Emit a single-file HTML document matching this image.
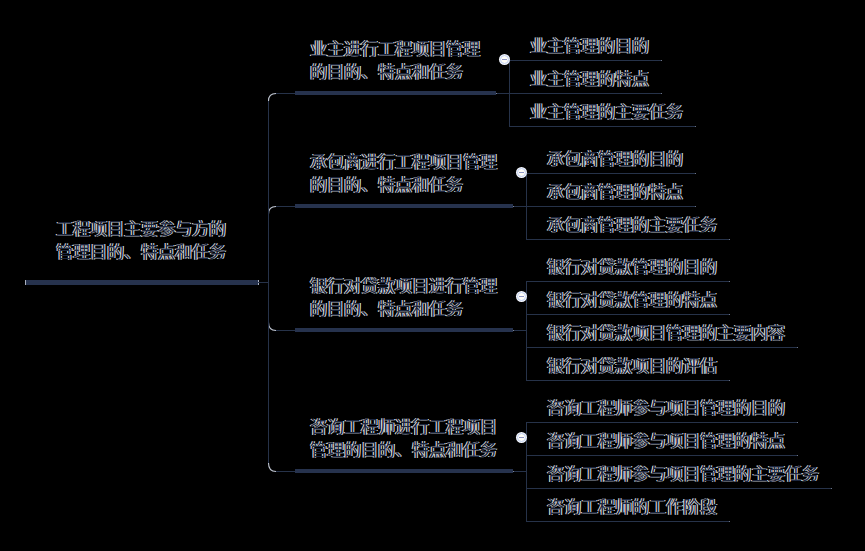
<!DOCTYPE html>
<html lang="zh-CN">
<head>
<meta charset="utf-8">
<title>工程项目主要参与方的管理目的、特点和任务</title>
<style>
html,body{margin:0;padding:0;}
body{width:865px;height:551px;background:#000;position:relative;overflow:hidden;
  font-family:"Liberation Sans",sans-serif;}
.t{position:absolute;font-size:17px;line-height:23px;height:23px;color:#1c263e;white-space:nowrap;
  text-align:justify;text-align-last:justify;
  -webkit-text-stroke:0.2px #1c263e;text-shadow:-1px 0 0 rgb(255,250,238),1px 0 0 rgb(228,242,255);}
.h{position:absolute;height:1px;background:#263249;}
.e::after{content:"";position:absolute;right:0;top:0;width:1px;height:1px;background:#6b7385;}
.v{position:absolute;width:1px;background:#263249;}
.bar{position:absolute;height:4px;background:#26324d;}
.c{position:absolute;width:7px;height:7px;border-radius:50%;background:#fefdf7;border:1px solid #c0d1f4;box-shadow:0 0 0 1px #f3f5fb;}
.c::after{content:"";position:absolute;left:1px;top:3px;width:5px;height:1px;background:#8f96c6;}
.p{position:absolute;width:1px;background:#a9b0bf;}
.q{position:absolute;width:1px;height:1px;background:#7d8596;}
svg{position:absolute;left:0;top:0;}
</style>
</head>
<body>
<svg width="865" height="551">
  <g fill="none" stroke="#c2c8d4" stroke-width="1.1">
    <path d="M268.5 101 Q268.5 93.5 276 93.5"/>
    <path d="M268.5 214 Q268.5 206.5 276 206.5"/>
    <path d="M268.5 322.5 Q268.5 330.5 276 330.5"/>
    <path d="M268.5 463 Q268.5 471.5 276 471.5"/>
  </g>
</svg>
<!-- root -->
<div class="t" style="left:56px;top:218px;width:170px;">工程项目主要参与方的</div>
<div class="t" style="left:56px;top:241px;width:170px;">管理目的、特点和任务</div>
<div class="bar" style="left:25px;top:280px;width:233px;height:5px;"></div>
<div class="h" style="left:258px;top:282px;width:10px;"></div>
<div class="p" style="left:25px;top:280px;height:5px;"></div>
<div class="p" style="left:258px;top:280px;height:2px;"></div>
<div class="p" style="left:258px;top:283px;height:2px;"></div>
<div class="v" style="left:268px;top:101px;height:362px;"></div>
<!-- level 1 node 1 -->
<div class="t" style="left:310px;top:38px;width:170px;">业主进行工程项目管理</div>
<div class="t" style="left:310px;top:61px;width:153px;">的目的、特点和任务</div>
<div class="h" style="left:276px;top:93px;width:19px;"></div>
<div class="bar" style="left:295px;top:91px;width:201px;"></div>
<div class="h" style="left:496px;top:93px;width:13px;"></div>
<div class="q" style="left:496px;top:93px;"></div>
<!-- group 1 -->
<div class="v" style="left:509px;top:60px;height:67px;"></div>
<div class="h e" style="left:509px;top:60px;width:153px;"></div>
<div class="t" style="left:530px;top:35px;width:119px;">业主管理的目的</div>
<div class="h e" style="left:509px;top:93px;width:153px;"></div>
<div class="t" style="left:530px;top:68px;width:119px;">业主管理的特点</div>
<div class="h e" style="left:509px;top:126px;width:187px;"></div>
<div class="t" style="left:530px;top:101px;width:153px;">业主管理的主要任务</div>
<div class="c" style="left:500.0px;top:55.0px;"></div>
<!-- level 1 node 2 -->
<div class="t" style="left:310px;top:151px;width:187px;">承包商进行工程项目管理</div>
<div class="t" style="left:310px;top:174px;width:153px;">的目的、特点和任务</div>
<div class="h" style="left:276px;top:206px;width:19px;"></div>
<div class="bar" style="left:295px;top:204px;width:218px;"></div>
<div class="h" style="left:513px;top:206px;width:13px;"></div>
<div class="q" style="left:513px;top:206px;"></div>
<!-- group 2 -->
<div class="v" style="left:526px;top:173px;height:67px;"></div>
<div class="h e" style="left:526px;top:173px;width:170px;"></div>
<div class="t" style="left:547px;top:148px;width:136px;">承包商管理的目的</div>
<div class="h e" style="left:526px;top:206px;width:170px;"></div>
<div class="t" style="left:547px;top:181px;width:136px;">承包商管理的特点</div>
<div class="h e" style="left:526px;top:239px;width:204px;"></div>
<div class="t" style="left:547px;top:214px;width:170px;">承包商管理的主要任务</div>
<div class="c" style="left:516.5px;top:168.0px;"></div>
<!-- level 1 node 3 -->
<div class="t" style="left:310px;top:275px;width:187px;">银行对贷款项目进行管理</div>
<div class="t" style="left:310px;top:298px;width:153px;">的目的、特点和任务</div>
<div class="h" style="left:276px;top:330px;width:19px;"></div>
<div class="bar" style="left:295px;top:328px;width:218px;"></div>
<div class="h" style="left:513px;top:330px;width:13px;"></div>
<div class="q" style="left:513px;top:330px;"></div>
<!-- group 3 -->
<div class="v" style="left:526px;top:281px;height:100px;"></div>
<div class="h e" style="left:526px;top:281px;width:204px;"></div>
<div class="t" style="left:547px;top:256px;width:170px;">银行对贷款管理的目的</div>
<div class="h e" style="left:526px;top:314px;width:204px;"></div>
<div class="t" style="left:547px;top:289px;width:170px;">银行对贷款管理的特点</div>
<div class="h e" style="left:526px;top:347px;width:272px;"></div>
<div class="t" style="left:547px;top:322px;width:238px;">银行对贷款项目管理的主要内容</div>
<div class="h e" style="left:526px;top:380px;width:204px;"></div>
<div class="t" style="left:547px;top:355px;width:170px;">银行对贷款项目的评估</div>
<div class="c" style="left:516.5px;top:292.0px;"></div>
<!-- level 1 node 4 -->
<div class="t" style="left:310px;top:416px;width:187px;">咨询工程师进行工程项目</div>
<div class="t" style="left:310px;top:439px;width:187px;">管理的目的、特点和任务</div>
<div class="h" style="left:276px;top:471px;width:19px;"></div>
<div class="bar" style="left:295px;top:469px;width:218px;"></div>
<div class="h" style="left:513px;top:471px;width:13px;"></div>
<div class="q" style="left:513px;top:471px;"></div>
<!-- group 4 -->
<div class="v" style="left:526px;top:422px;height:100px;"></div>
<div class="h e" style="left:526px;top:422px;width:272px;"></div>
<div class="t" style="left:547px;top:397px;width:238px;">咨询工程师参与项目管理的目的</div>
<div class="h e" style="left:526px;top:455px;width:272px;"></div>
<div class="t" style="left:547px;top:430px;width:238px;">咨询工程师参与项目管理的特点</div>
<div class="h e" style="left:526px;top:488px;width:306px;"></div>
<div class="t" style="left:547px;top:463px;width:272px;">咨询工程师参与项目管理的主要任务</div>
<div class="h e" style="left:526px;top:521px;width:204px;"></div>
<div class="t" style="left:547px;top:496px;width:170px;">咨询工程师的工作阶段</div>
<div class="c" style="left:516.5px;top:433.0px;"></div>
</body>
</html>
